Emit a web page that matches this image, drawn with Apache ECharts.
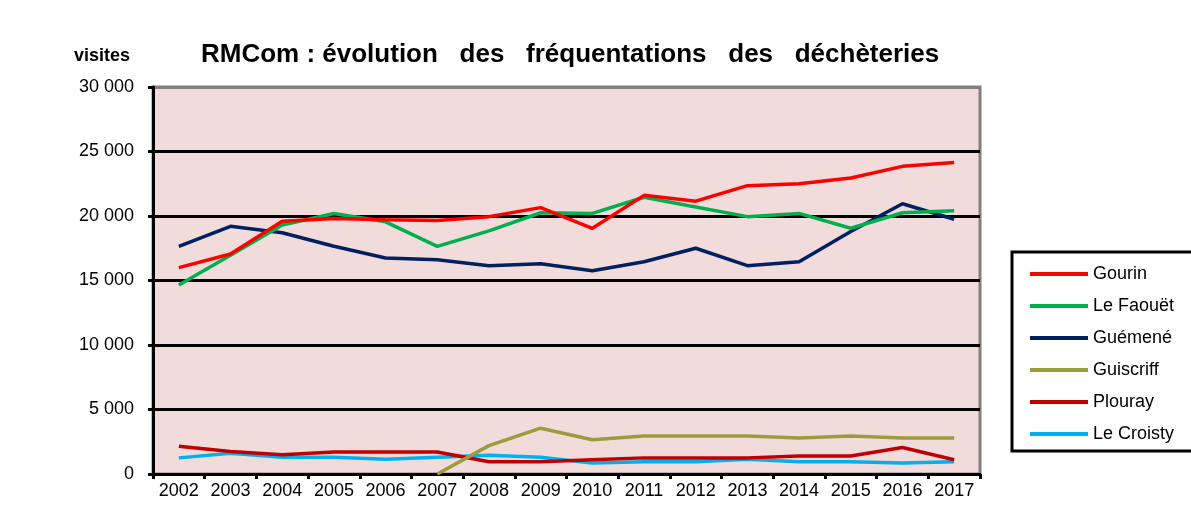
<!DOCTYPE html>
<html>
<head>
<meta charset="utf-8">
<script src="https://cdn.jsdelivr.net/npm/echarts@6/dist/echarts.min.js"></script>
<style>
html, body { margin: 0; padding: 0; background: #fff; }
#main { width: 1191px; height: 510px; }
</style>
</head>
<body>
<div id="main"></div>
<script>
var years = ['2002', '2003', '2004', '2005', '2006', '2007', '2008', '2009', '2010', '2011', '2012', '2013', '2014', '2015', '2016', '2017'];
var gourin = [16000, 17050, 19600, 19800, 19700, 19650, 19950, 20650, 19050, 21600, 21150, 22350, 22500, 22950, 23850, 24150];
var leFaouet = [14650, 16950, 19300, 20200, 19550, 17650, 18850, 20250, 20200, 21450, 20700, 19950, 20200, 19050, 20250, 20400];
var guemene = [17650, 19200, 18700, 17650, 16750, 16600, 16150, 16300, 15750, 16450, 17500, 16150, 16450, 18800, 20950, 19750];
var guiscriff = [null, null, null, null, null, 0, 2200, 3550, 2650, 2950, 2950, 2950, 2800, 2950, 2800, 2800];
var plouray = [2150, 1750, 1500, 1700, 1700, 1700, 950, 950, 1100, 1250, 1250, 1250, 1400, 1400, 2050, 1100];
var leCroisty = [1250, 1600, 1300, 1300, 1150, 1300, 1450, 1300, 850, 950, 950, 1150, 950, 950, 850, 950];

var names = ['Gourin', 'Le Faouët', 'Guémené', 'Guiscriff', 'Plouray', 'Le Croisty'];
var colors = ['#FF0000', '#00B050', '#002060', '#9C9C3C', '#C00000', '#00B0F0'];
var values = [gourin, leFaouet, guemene, guiscriff, plouray, leCroisty];

var chart = echarts.init(document.getElementById('main'));

var series = names.map(function (n, i) {
    return {
        name: n,
        type: 'line',
        data: values[i],
        symbol: 'none',
        lineStyle: { color: colors[i], width: 3.5 },
        itemStyle: { color: colors[i] },
        z: 10 - i
    };
});

var option = {
    backgroundColor: '#fff',
    textStyle: { fontFamily: 'Liberation Sans, Arial, sans-serif' },
    title: [{
        text: 'RMCom : évolution   des   fréquentations   des   déchèteries',
        left: 196,
        top: 37,
        textStyle: { fontSize: 26, fontWeight: 'bold', color: '#000', fontFamily: 'Liberation Sans' }
    }, {
        text: 'visites',
        left: 69,
        top: 42,
        textStyle: { fontSize: 18, fontWeight: 'bold', color: '#000', fontFamily: 'Liberation Sans' }
    }],
    legend: {
        orient: 'vertical',
        left: 1012,
        top: 252,
        data: names,
        icon: 'rect',
        itemWidth: 58,
        itemHeight: 4,
        itemGap: 12,
        padding: [12, 60, 7, 18],
        backgroundColor: '#fff',
        borderColor: '#000',
        borderWidth: 3,
        textStyle: { fontSize: 18, color: '#000', lineHeight: 20, fontFamily: 'Liberation Sans' }
    },
    grid: {
        left: 153,
        right: 211,
        top: 87,
        bottom: 36,
        show: true,
        backgroundColor: '#F2DCDB',
        borderColor: '#808080',
        borderWidth: 3
    },
    xAxis: {
        type: 'category',
        data: years,
        boundaryGap: true,
        axisLine: { lineStyle: { color: '#000', width: 3 } },
        axisTick: { show: true, length: 5, lineStyle: { color: '#000', width: 3 } },
        axisLabel: { color: '#000', fontSize: 18, margin: 8, interval: 0 }
    },
    yAxis: {
        type: 'value',
        min: 0,
        max: 30000,
        interval: 5000,
        axisLine: { show: true, lineStyle: { color: '#000', width: 3 } },
        axisTick: { show: true, length: 5, lineStyle: { color: '#000', width: 3 } },
        splitLine: { lineStyle: { color: ['#000', '#000', '#000', '#000', '#000', '#000', '#808080'], width: 3 } },
        axisLabel: {
            color: '#000',
            fontSize: 18,
            margin: 19,
            formatter: function (v) {
                return String(v).replace(/\B(?=(\d{3})+(?!\d))/g, ' ');
            }
        }
    },
    series: series
};

chart.setOption(option);
</script>
</body>
</html>
